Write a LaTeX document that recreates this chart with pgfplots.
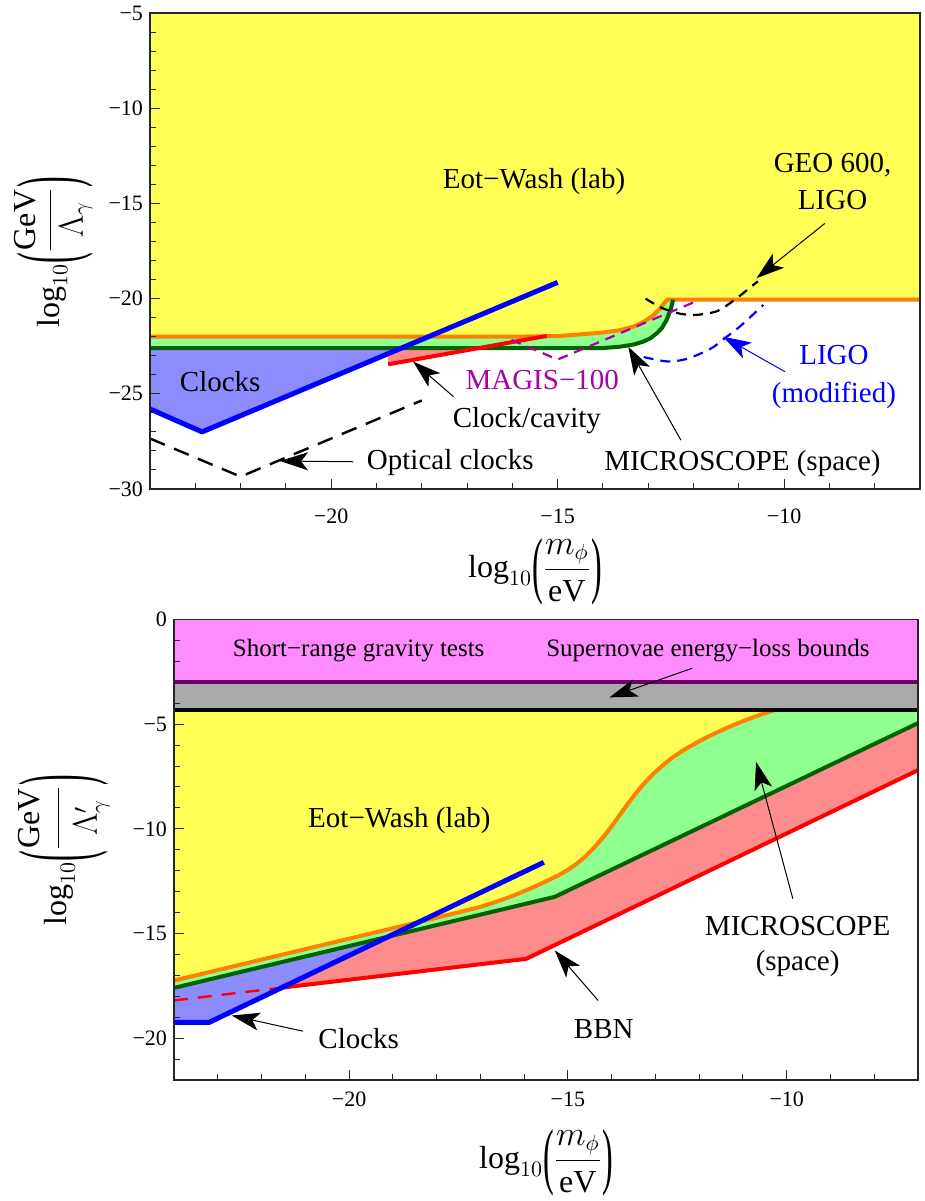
\documentclass[border=0pt]{standalone}
\usepackage{fontspec}
\setmainfont{Liberation Serif}
\usepackage{graphicx}
\usepackage{pgfplots}
\pgfplotsset{compat=1.18}
\usetikzlibrary{arrows.meta}
\definecolor{myyellow}{RGB}{255,255,85}
\definecolor{myorange}{RGB}{255,128,0}
\definecolor{mylgreen}{RGB}{143,255,143}
\definecolor{mydgreen}{RGB}{0,100,0}
\definecolor{mylblue}{RGB}{140,140,255}
\definecolor{mypink}{RGB}{255,140,140}
\definecolor{mymagenta}{RGB}{170,0,170}
\definecolor{mypinkfill}{RGB}{255,140,255}
\definecolor{mypurple}{RGB}{110,0,110}
\definecolor{mygray}{RGB}{170,170,170}
\newcommand{\lab}{\fontsize{14.5}{18}\selectfont}
\newcommand{\lp}[2]{\mbox{\raisebox{#2}{\scalebox{1}[#1]{(}}}}
\newcommand{\rp}[2]{\mbox{\raisebox{#2}{\scalebox{1}[#1]{)}}}}
\tikzset{arr/.style={-{Stealth[length=14pt,width=9pt,inset=3.5pt]}, line width=0.5pt}}
\pgfplotsset{mystyle/.style={scale only axis, anchor=south west, xmin=-24, xmax=-7,
  tick align=inside, tick pos=left, axis on top,
  major tick length=5pt, minor tick length=3pt,
  axis line style={black!85, line width=0.6pt},
  tick style={black!85, line width=0.5pt},
  tick label style={font=\fontsize{11}{13}\selectfont},
  xtick={-20,-15,-10}, xticklabels={−20,−15,−10},
  minor xtick={-24,-23,...,-7}}}
\begin{document}
\begin{tikzpicture}
\path[use as bounding box] (0pt,0pt) rectangle (462.5pt,600.5pt);
% ---------------- top panel ----------------
\begin{axis}[mystyle, at={(75pt,356pt)}, width=385pt, height=238pt,
  ymin=-30, ymax=-5, ytick={-30,-25,-20,-15,-10,-5},
  yticklabels={−30,−25,−20,−15,−10,−5}, minor ytick={-30,-29,...,-5},
  xticklabel style={yshift=-6.5pt}]
% yellow (Eot-Wash)
\addplot[fill=myyellow, draw=none] coordinates {(-24,-4) (-7,-4) (-7,-20.05) (-12.58,-20.05) (-12.65,-20.25) (-12.75,-20.55) (-12.9,-20.9) (-13.1,-21.22) (-13.3,-21.45) (-13.6,-21.65) (-14,-21.78) (-14.5,-21.88) (-15,-21.97) (-16,-22.0) (-24,-22.0)} -- cycle;
% light green
\addplot[fill=mylgreen, draw=none] coordinates {(-24,-22.0) (-16,-22.0) (-15,-21.97) (-14.5,-21.88) (-14,-21.78) (-13.6,-21.65) (-13.3,-21.45) (-13.1,-21.22) (-12.9,-20.9) (-12.75,-20.55) (-12.65,-20.25) (-12.58,-20.05) (-12.45,-20.05) (-12.5,-20.55) (-12.6,-21.15) (-12.7,-21.55) (-12.8,-21.8) (-12.95,-22.08) (-13.1,-22.25) (-13.3,-22.4) (-13.6,-22.52) (-14,-22.6) (-24,-22.6)} -- cycle;
% clocks fill
\addplot[fill=mylblue, draw=none] coordinates {(-24,-22.6) (-18.45,-22.6) (-22.85,-27.0) (-24,-25.8)} -- cycle;
% clock/cavity fill
\addplot[fill=mypink, draw=none] coordinates {(-18.74,-23.45) (-16.74,-22.6) (-18.74,-22.6)} -- cycle;
% lines
\addplot[myorange, line width=2pt, line join=round] coordinates {(-24,-22.0) (-16,-22.0) (-15,-21.97) (-14.5,-21.88) (-14,-21.78) (-13.6,-21.65) (-13.3,-21.45) (-13.1,-21.22) (-12.9,-20.9) (-12.75,-20.55) (-12.65,-20.25) (-12.58,-20.05) (-7,-20.05)};
\addplot[mydgreen, line width=2pt, line join=round] coordinates {(-24,-22.6) (-14,-22.6) (-13.6,-22.52) (-13.3,-22.4) (-13.1,-22.25) (-12.95,-22.08) (-12.8,-21.8) (-12.7,-21.55) (-12.6,-21.15) (-12.5,-20.55) (-12.45,-20.05)};
\addplot[red, line width=2pt] coordinates {(-18.74,-23.45) (-15.24,-21.96)};
\addplot[blue, line width=2.5pt, line join=round] coordinates {(-24,-25.8) (-22.85,-27.0) (-15,-19.15)};
\addplot[black, line width=1.2pt, dash pattern=on 8pt off 5pt] coordinates {(-24,-27.35) (-22,-29.35) (-18,-25.35)};
\addplot[mymagenta, line width=1.1pt, dash pattern=on 5pt off 3.5pt] coordinates {(-16.02,-22.17) (-15.0,-23.2) (-11.9,-20.1)};
\addplot[black, line width=1.1pt, dash pattern=on 5pt off 3.5pt, smooth] coordinates {(-13.06,-20.0) (-12.69,-20.5) (-12.28,-20.8) (-11.91,-20.85) (-11.47,-20.65) (-11.09,-20.06) (-10.72,-19.36) (-10.58,-19.09)};
\addplot[blue, line width=1.1pt, dash pattern=on 5pt off 3.5pt, smooth] coordinates {(-13.1,-23.07) (-12.58,-23.3) (-12.14,-23.16) (-11.62,-22.63) (-11.32,-22.1) (-10.94,-21.39) (-10.46,-20.33)};
% labels
\node[font=\lab] at (axis cs:-15.52,-13.86) {Eot−Wash (lab)};
\node[font=\lab] at (axis cs:-22.45,-24.36) {Clocks};
\node[font=\lab, text=mymagenta] at (axis cs:-15.34,-24.28) {MAGIS−100};
\node[font=\lab] at (axis cs:-15.68,-26.38) {Clock/cavity};
\node[font=\lab] at (axis cs:-17.37,-28.62) {Optical clocks};
\node[font=\lab] at (axis cs:-10.92,-28.65) {MICROSCOPE (space)};
\node[font=\fontsize{14.5}{18.5}\selectfont, align=center] at (axis cs:-8.93,-13.85) {GEO 600,\\LIGO};
\node[font=\fontsize{14.5}{19}\selectfont, align=center, text=blue] at (axis cs:-8.9,-24.14) {LIGO\\(modified)};
\draw[arr] (axis cs:-17.3,-25.15) -- (axis cs:-18.19,-23.31);
\draw[arr] (axis cs:-19.51,-28.57) -- (axis cs:-21.13,-28.53);
\draw[arr] (axis cs:-12.28,-27.43) -- (axis cs:-13.44,-22.53);
\draw[arr] (axis cs:-9.1,-16.05) -- (axis cs:-10.61,-18.93);
\draw[arr, blue] (axis cs:-9.98,-23.84) -- (axis cs:-11.35,-22.0);
\end{axis}
% ---------------- bottom panel ----------------
\begin{axis}[mystyle, at={(87pt,60.5pt)}, width=372pt, height=230.25pt,
  ymin=-22, ymax=0, ytick={-20,-15,-10,-5,0},
  yticklabels={−20,−15,−10,−5,0}, minor ytick={-22,-21,...,0},
  xticklabel style={yshift=-2.5pt}]
\addplot[fill=mypinkfill, draw=none] coordinates {(-24,0.5) (-7,0.5) (-7,-3) (-24,-3)} -- cycle;
\addplot[fill=mygray, draw=none] coordinates {(-24,-3) (-7,-3) (-7,-4.33) (-24,-4.33)} -- cycle;
% yellow
\addplot[fill=myyellow, draw=none] coordinates {(-24,-4.33) (-10.27,-4.33) (-10.4,-4.41) (-10.6,-4.55) (-10.8,-4.7) (-11.0,-4.86) (-11.2,-5.03) (-11.4,-5.21) (-11.6,-5.4) (-11.8,-5.6) (-12.0,-5.82) (-12.2,-6.05) (-12.4,-6.3) (-12.6,-6.58) (-12.8,-6.91) (-13.0,-7.28) (-13.2,-7.7) (-13.4,-8.18) (-13.6,-8.72) (-13.8,-9.3) (-14.0,-9.88) (-14.2,-10.42) (-14.4,-10.9) (-14.6,-11.32) (-14.8,-11.67) (-15.0,-11.96) (-15.2,-12.2) (-15.4,-12.41) (-15.6,-12.61) (-15.8,-12.8) (-16.0,-12.98) (-16.2,-13.15) (-16.4,-13.31) (-16.6,-13.46) (-16.8,-13.6) (-17,-13.73) (-18,-14.25) (-20,-15.25) (-24,-17.25)} -- cycle;
% light green
\addplot[fill=mylgreen, draw=none] coordinates {(-24,-17.25) (-20,-15.25) (-18,-14.25) (-17,-13.73) (-16.8,-13.6) (-16.6,-13.46) (-16.4,-13.31) (-16.2,-13.15) (-16.0,-12.98) (-15.8,-12.8) (-15.6,-12.61) (-15.4,-12.41) (-15.2,-12.2) (-15.0,-11.96) (-14.8,-11.67) (-14.6,-11.32) (-14.4,-10.9) (-14.2,-10.42) (-14.0,-9.88) (-13.8,-9.3) (-13.6,-8.72) (-13.4,-8.18) (-13.2,-7.7) (-13.0,-7.28) (-12.8,-6.91) (-12.6,-6.58) (-12.4,-6.3) (-12.2,-6.05) (-12.0,-5.82) (-11.8,-5.6) (-11.6,-5.4) (-11.4,-5.21) (-11.2,-5.03) (-11.0,-4.86) (-10.8,-4.7) (-10.6,-4.55) (-10.4,-4.41) (-10.27,-4.33) (-7,-4.33) (-7,-4.95) (-15.3,-13.25) (-24,-17.6)} -- cycle;
% BBN fill
\addplot[fill=mypink, draw=none] coordinates {(-21.54,-17.59) (-15.95,-16.21) (-7,-7.2) (-7,-4.95) (-15.3,-13.25) (-19.1,-15.15)} -- cycle;
% clocks fill
\addplot[fill=mylblue, draw=none] coordinates {(-24,-17.6) (-19.1,-15.15) (-23.2,-19.25) (-24,-19.25)} -- cycle;
% lines
\addplot[mypurple, line width=1.8pt] coordinates {(-24,-3) (-7,-3)};
\addplot[myorange, line width=2pt, line join=round] coordinates {(-24,-17.25) (-20,-15.25) (-18,-14.25) (-17,-13.73) (-16.8,-13.6) (-16.6,-13.46) (-16.4,-13.31) (-16.2,-13.15) (-16.0,-12.98) (-15.8,-12.8) (-15.6,-12.61) (-15.4,-12.41) (-15.2,-12.2) (-15.0,-11.96) (-14.8,-11.67) (-14.6,-11.32) (-14.4,-10.9) (-14.2,-10.42) (-14.0,-9.88) (-13.8,-9.3) (-13.6,-8.72) (-13.4,-8.18) (-13.2,-7.7) (-13.0,-7.28) (-12.8,-6.91) (-12.6,-6.58) (-12.4,-6.3) (-12.2,-6.05) (-12.0,-5.82) (-11.8,-5.6) (-11.6,-5.4) (-11.4,-5.21) (-11.2,-5.03) (-11.0,-4.86) (-10.8,-4.7) (-10.6,-4.55) (-10.4,-4.41) (-10.27,-4.33)};
\addplot[black, line width=2.2pt] coordinates {(-24,-4.33) (-7,-4.33)};
\addplot[mydgreen, line width=2pt, line join=round] coordinates {(-24,-17.6) (-15.3,-13.25) (-7,-4.95)};
\addplot[red, line width=2pt, line join=round] coordinates {(-21.54,-17.59) (-15.95,-16.21) (-7,-7.2)};
\addplot[red, line width=1.2pt, dash pattern=on 7pt off 5pt] coordinates {(-24,-18.2) (-21.54,-17.59)};
\addplot[blue, line width=2.5pt, line join=round] coordinates {(-24,-19.25) (-23.2,-19.25) (-15.55,-11.6)};
% labels
\node[font=\fontsize{12.5}{15}\selectfont] at (axis cs:-19.78,-1.46) {Short−range gravity tests};
\node[font=\fontsize{12.5}{15}\selectfont] at (axis cs:-11.8,-1.46) {Supernovae energy−loss bounds};
\draw[arr] (axis cs:-12.16,-2.33) -- (axis cs:-14.05,-3.72);
\node[font=\lab] at (axis cs:-18.85,-9.6) {Eot−Wash (lab)};
\node[font=\lab] at (axis cs:-19.78,-20.03) {Clocks};
\draw[arr] (axis cs:-21.05,-19.67) -- (axis cs:-22.68,-18.92);
\node[font=\lab] at (axis cs:-14.18,-19.55) {BBN};
\draw[arr] (axis cs:-14.31,-18.2) -- (axis cs:-15.3,-15.81);
\node[font=\fontsize{14.5}{17.5}\selectfont, align=center] at (axis cs:-9.75,-15.61) {MICROSCOPE\\(space)};
\draw[arr] (axis cs:-9.86,-13.34) -- (axis cs:-10.7,-6.8);
\end{axis}
% axis labels
\node[rotate=90, inner sep=0pt] at (27pt,474.5pt) {\fontsize{16}{19}\selectfont$\log_{10}\!\lp{2.64}{-8pt}\displaystyle\frac{\mathrm{GeV}}{\rule{0pt}{13pt}\Lambda_{\gamma}}\rp{2.64}{-8pt}$};
\node[rotate=90, inner sep=0pt] at (32pt,175.5pt) {\fontsize{16}{19}\selectfont$\log_{10}\!\lp{3.1}{-10.5pt}\displaystyle\frac{\mathrm{GeV}\rule[-8pt]{0pt}{1pt}}{\rule{0pt}{18pt}\Lambda'_{\gamma}}\rp{3.1}{-10.5pt}$};
\node[inner sep=0pt] at (267.5pt,314.5pt) {\fontsize{16}{19}\selectfont$\log_{10}\!\lp{2.3}{-6pt}\displaystyle\frac{m_{\phi}}{\rule{0pt}{12pt}\mathrm{eV}}\rp{2.3}{-6pt}$};
\node[inner sep=0pt] at (273pt,19pt) {\fontsize{16}{19}\selectfont$\log_{10}\!\lp{2.3}{-6pt}\displaystyle\frac{m_{\phi}}{\rule{0pt}{12pt}\mathrm{eV}}\rp{2.3}{-6pt}$};
\end{tikzpicture}
\end{document}
